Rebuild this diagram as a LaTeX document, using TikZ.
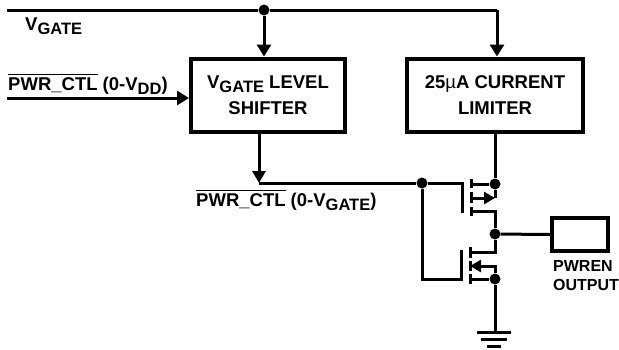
\documentclass[tikz,border=0pt]{standalone}
\usepackage{fontspec}
\setmainfont{Liberation Sans}
\usetikzlibrary{arrows.meta}
\usetikzlibrary{positioning}
\newcommand{\lowsub}[1]{\raisebox{-4pt}{\fontsize{16.5}{16.5}\selectfont #1}}
\newcommand{\barred}[1]{\setbox0\hbox{#1}\rlap{\rule[15.5pt]{\wd0}{1pt}}\box0\relax}
\tikzset{
    blockbox/.style={
           rectangle,
           draw=black, line width=4pt,
           inner sep=0pt,
           minimum width=154pt,
           minimum height=73pt,
           align=center,
           font=\fontsize{18.5}{26}\selectfont\bfseries,
           },
}
\tikzset{
    outbox/.style={
           rectangle,
           draw=black, line width=4pt,
           inner sep=0pt,
           minimum width=56pt,
           minimum height=33pt,
           },
}
\tikzset{
    sig/.style={
           anchor=base west,
           inner sep=0pt,
           font=\fontsize{18.5}{18.5}\selectfont\bfseries,
           },
}
\tikzset{
    outlbl/.style={
           anchor=base west,
           inner sep=0pt,
           font=\fontsize{16}{16}\selectfont\bfseries,
           },
}
\tikzset{
    dot/.style={
           circle,
           fill=black,
           inner sep=0pt,
           minimum size=11pt,
           },
}
\tikzset{
    wire/.style={line width=3pt},
    feed/.style={line width=3pt,-{Triangle[length=12pt,width=14pt]}},
    thru/.style={line width=3pt,-{Triangle[length=12pt,width=13pt]}},
    fetarrow/.style={line width=3pt,-{Triangle[length=11pt,width=12pt]}},
    gnd/.style={line width=3pt},
}

\begin{document}
\begin{tikzpicture}[x=1pt,y=-1pt]
\useasboundingbox (0,0) rectangle (619,349);
% blocks
\node[blockbox](shifter) at (268,95){V\lowsub{GATE} LEVEL\\SHIFTER};
\node[blockbox,minimum width=176pt](limiter) at (495,95){25{\mdseries µ}A CURRENT\\LIMITER};
\node[outbox](pwren) at (580,234.5){};
% labels
\node[sig](vgatelbl) at (25,30){V\lowsub{GATE}};
\node[sig](ctlin) at (8,90){\barred{PWR\_CTL} (0-V\lowsub{DD})};
\node[sig](ctlout) at (196,206){\barred{PWR\_CTL} (0-V\lowsub{GATE})};
\node[outlbl](pwrenlbl) at (553,271){PWREN};
\node[outlbl](outputlbl) at (553,290){OUTPUT};
% junctions
\node[dot](tap) at (264,10){};
\node[dot](gatetap) at (422,183){};
\node[dot](srctop) at (495,184){};
\node[dot](mid) at (495,234){};
\node[dot](srcbot) at (495,279){};
% free ends
\coordinate (vgatestart) at (7,10);
\coordinate (limturn) at (497,10);
\coordinate (ctlstart) at (7,98);
\coordinate (lvlout) at (259,183);
\coordinate (gnd1) at (495,332);
% upper fet
\coordinate (ug1) at (462,183);
\coordinate (ug2) at (462,213);
\coordinate (ud) at (471,184);
\coordinate (us) at (471,211);
\coordinate (ua) at (471,198);
\coordinate (ub) at (495,198);
\coordinate (uc) at (495,211);
% lower fet
\coordinate (lg1) at (461,250);
\coordinate (lg2) at (461,279);
\coordinate (ld) at (470,252);
\coordinate (lc) at (495,252);
\coordinate (la) at (470,266);
\coordinate (lb) at (495,266);
\coordinate (ls) at (470,279);
\coordinate (lgturn) at (422,279);
% connectors
\draw[wire] (vgatestart) -- (tap) -- (limturn);
\draw[feed] (tap) -- (tap |- shifter.north);
\draw[feed] (limturn) -- (limturn |- limiter.north);
\draw[feed] (ctlstart) -- (ctlstart -| shifter.west);
\draw[thru] (lvlout |- shifter.south) -- (lvlout);
\draw[wire] (lvlout) -- (gatetap) -- (ug1) -- (ug2);
\draw[wire] (srctop |- limiter.south) -- (srctop);
\draw[wire] (gatetap) -- (lgturn) -- (lg2) -- (lg1);
\draw[wire] (ud) -- (srctop) -- (ub);
\draw[fetarrow] (ua) -- (ub);
\draw[wire] (us) -- (uc) -- (mid) -- (lc) -- (ld);
\draw[wire] (mid) -- (pwren.west);
\draw[fetarrow] (srcbot) -- (lb) -- (la);
\draw[wire] (ls) -- (srcbot) -- (gnd1);
% channels
\draw[wire] (471,179) -- (471,188);
\draw[wire] (471,192) -- (471,203);
\draw[wire] (471,207) -- (471,216);
\draw[wire] (470,247) -- (470,258);
\draw[wire] (470,261) -- (470,271);
\draw[wire] (470,274) -- (470,284);
% ground
\draw[gnd] (477,332) -- (gnd1) -- (511,332);
\draw[gnd] (481,339) -- (507,339);
\draw[gnd] (487,346) -- (501,346);
\end{tikzpicture}
\end{document}
